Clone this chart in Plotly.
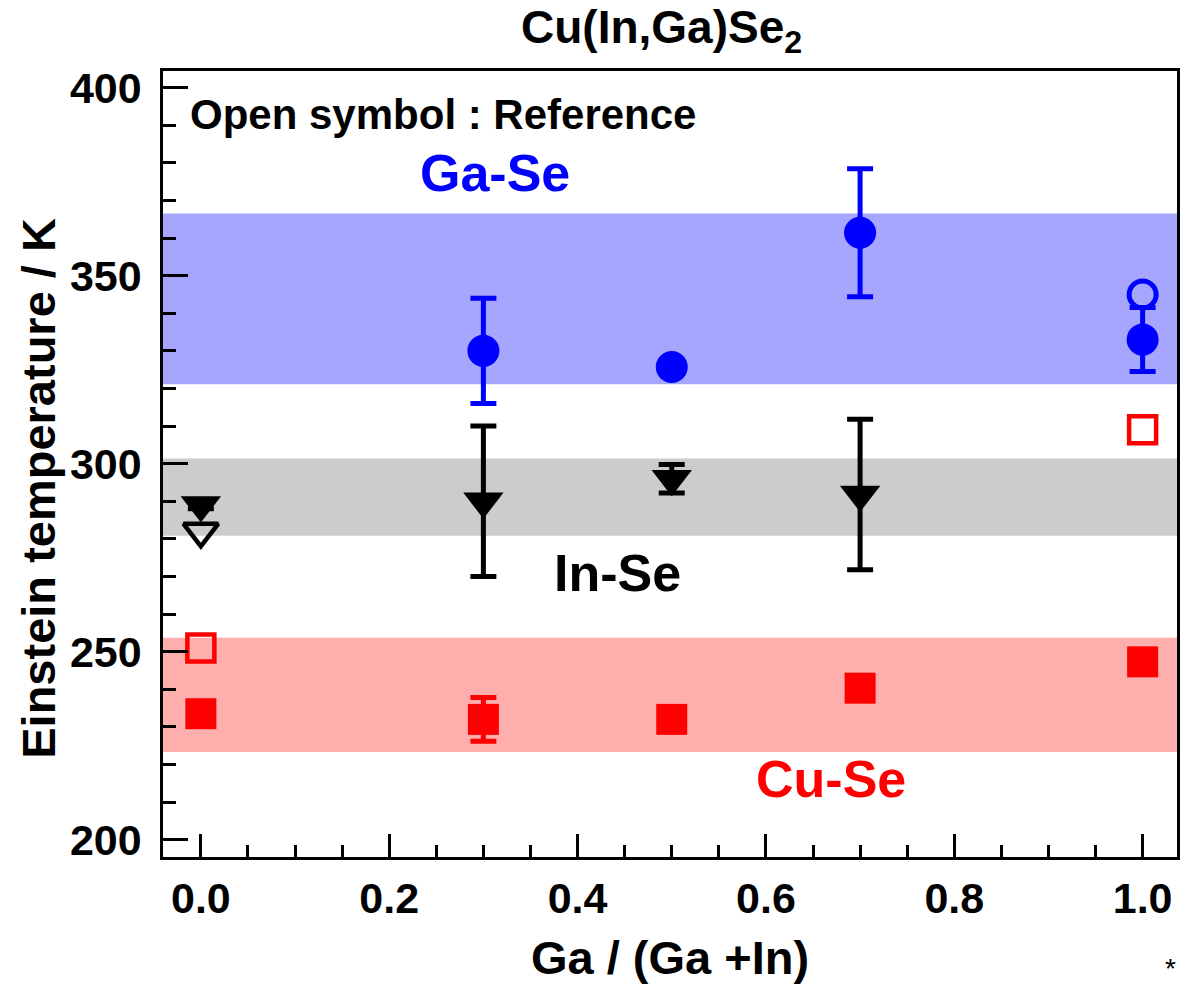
import plotly.graph_objects as go

# ---------------- data ----------------
ga_ratio_gase = [0.3, 0.5, 0.7, 1.0]
gase_temp = [330.0, 325.7, 361.4, 333.0]
gase_err = [14.0, 0.0, 17.0, 8.5]
gase_ref_x = [1.0]
gase_ref_temp = [345.0]

ga_ratio_inse = [0.0, 0.3, 0.5, 0.7]
inse_temp = [289.0, 290.0, 296.0, 291.8]
inse_err = [1.0, 20.0, 3.8, 20.0]
inse_ref_x = [0.0]
inse_ref_temp = [282.0]

ga_ratio_cuse = [0.0, 0.3, 0.5, 0.7, 1.0]
cuse_temp = [233.5, 232.0, 232.0, 240.3, 247.3]
cuse_err = [0.0, 5.8, 0.0, 0.0, 0.0]
cuse_ref_x = [0.0, 1.0]
cuse_ref_temp = [251.0, 309.0]

band_gase = [321.1, 366.5]
band_inse = [280.8, 301.4]
band_cuse = [223.3, 253.7]

x_tickvals = [0.0, 0.2, 0.4, 0.6, 0.8, 1.0]
x_ticktext = ["0.0", "0.2", "0.4", "0.6", "0.8", "1.0"]
y_tickvals = [200, 250, 300, 350, 400]
y_ticktext = ["200", "250", "300", "350", "400"]

FONT = "Liberation Sans, Arial, sans-serif"
BLUE = "#0000FF"
RED = "#FF0000"
BLACK = "#000000"

fig = go.Figure()

# bands
for (lo, hi), col in [(band_gase, "rgb(166,166,255)"),
                      (band_inse, "rgb(204,204,204)"),
                      (band_cuse, "rgb(255,174,174)")]:
    fig.add_shape(type="rect", xref="x domain", yref="y", x0=0, x1=1,
                  y0=lo, y1=hi, fillcolor=col, line=dict(width=0),
                  layer="below")

def err(arr, col):
    return dict(type="data", array=arr, visible=True, color=col,
                thickness=5, width=13)

# Ga-Se
fig.add_trace(go.Scatter(x=ga_ratio_gase, y=gase_temp, mode="markers",
                         name="Ga-Se", error_y=err(gase_err, BLUE),
                         marker=dict(symbol="circle", size=32, color=BLUE,
                                     line=dict(width=0))))
fig.add_trace(go.Scatter(x=gase_ref_x, y=gase_ref_temp, mode="markers",
                         name="Ga-Se (ref)",
                         marker=dict(symbol="circle-open", size=27,
                                     color=BLUE, line=dict(width=5, color=BLUE))))
# In-Se
fig.add_trace(go.Scatter(x=ga_ratio_inse, y=inse_temp, mode="markers",
                         name="In-Se", error_y=err(inse_err, BLACK),
                         marker=dict(symbol="triangle-down", size=35,
                                     color=BLACK, line=dict(width=0))))
fig.add_trace(go.Scatter(x=inse_ref_x, y=inse_ref_temp, mode="markers",
                         name="In-Se (ref)",
                         marker=dict(symbol="triangle-down-open", size=30,
                                     color=BLACK, line=dict(width=4.5, color=BLACK))))
# Cu-Se
fig.add_trace(go.Scatter(x=ga_ratio_cuse, y=cuse_temp, mode="markers",
                         name="Cu-Se", error_y=err(cuse_err, RED),
                         marker=dict(symbol="square", size=31, color=RED,
                                     line=dict(width=0))))
fig.add_trace(go.Scatter(x=cuse_ref_x, y=cuse_ref_temp, mode="markers",
                         name="Cu-Se (ref)",
                         marker=dict(symbol="square-open", size=27,
                                     color=RED, line=dict(width=4.5, color=RED))))

annots = [
    dict(text="Open symbol : Reference", x=-0.0138, y=392.8, xanchor="left",
         yanchor="middle", font=dict(size=42, color=BLACK)),
    dict(text="Ga-Se", x=0.3123, y=377.4, font=dict(size=52, color=BLUE)),
    dict(text="In-Se", x=0.4423, y=270.9, font=dict(size=52, color=BLACK)),
    dict(text="Cu-Se", x=0.669, y=216.1, font=dict(size=52, color=RED)),
]
for a in annots:
    a.setdefault("xanchor", "center")
    a.setdefault("yanchor", "middle")
    a["font"]["family"] = FONT
    a["font"]["weight"] = "bold"
    fig.add_annotation(xref="x", yref="y", showarrow=False, **a)

fig.add_annotation(text="Cu(In,Ga)Se<sub>2</sub>", xref="paper", yref="paper",
                   x=0.4917, y=1.052, xanchor="center", yanchor="middle",
                   showarrow=False,
                   font=dict(family=FONT, size=46, color=BLACK, weight="bold"))
fig.add_annotation(text="Einstein temperature / K", xref="paper", yref="paper",
                   x=-0.1229, y=0.469, xanchor="center", yanchor="middle",
                   textangle=-90, showarrow=False,
                   font=dict(family=FONT, size=47, color=BLACK, weight="bold"))
fig.add_annotation(text="*", xref="paper", yref="paper", x=0.986, y=-0.142,
                   xanchor="left", yanchor="middle", showarrow=False,
                   font=dict(family=FONT, size=28, color=BLACK))

axis_common = dict(showgrid=False, zeroline=False, showline=True,
                   linecolor=BLACK, linewidth=2.5, mirror=True,
                   ticks="inside", tickwidth=2.5, tickcolor=BLACK,
                   tickfont=dict(family=FONT, size=43, color=BLACK, weight="bold"))

fig.update_layout(
    width=1181, height=984,
    margin=dict(l=163, r=1, t=71, b=124),
    paper_bgcolor="white", plot_bgcolor="white",
    showlegend=False,
    xaxis=dict(range=[-0.0402, 1.0365], tickvals=x_tickvals, ticktext=x_ticktext,
               ticklen=23, ticklabelstandoff=2,
               minor=dict(ticks="inside", ticklen=12, dtick=0.05, tick0=0,
                          tickwidth=2.5, tickcolor=BLACK),
               title=dict(text="Ga / (Ga +In)", standoff=28,
                          font=dict(family=FONT, size=47, color=BLACK, weight="bold")),
               **axis_common),
    yaxis=dict(range=[195.4, 404.42], tickvals=y_tickvals, ticktext=y_ticktext,
               ticklen=25, ticklabelstandoff=10,
               minor=dict(ticks="inside", ticklen=13, dtick=10, tick0=200,
                          tickwidth=2.5, tickcolor=BLACK),
               **axis_common),
)

fig.write_html("out.html")
